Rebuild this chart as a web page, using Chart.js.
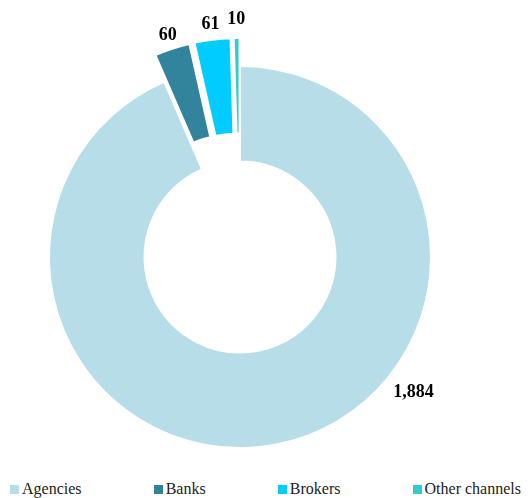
<!DOCTYPE html>
<html>
<head>
<meta charset="utf-8">
<script src="https://cdn.jsdelivr.net/npm/chart.js@4.4.1/dist/chart.umd.min.js"></script>
<style>
  html, body { margin: 0; padding: 0; background: #fff; }
  #wrap { position: relative; width: 531px; height: 498px; }
  #chartBox { position: absolute; left: 0; top: 0; width: 531px; height: 470px; }
  #legend {
    position: absolute; left: 10px; top: 480px; width: 511px;
    display: flex; justify-content: space-between;
    font-family: 'Liberation Serif', 'Times New Roman', serif;
    font-size: 16px; line-height: 18px; color: #222;
  }
  .item { display: flex; align-items: center; }
  .swatch { width: 9px; height: 9px; margin-right: 3px; }
</style>
</head>
<body>
<div id="wrap">
  <div id="chartBox"><canvas id="channelChart"></canvas></div>
  <div id="legend"></div>
</div>
<script>
const channels = ['Agencies', 'Banks', 'Brokers', 'Other channels'];
const policies = [1884, 60, 61, 10];
const colors = ['#b7dde8', '#31849b', '#00ccff', '#33cccc'];

// small slices are pulled out of the ring (pixels)
const sliceOffset = [0, 28, 28, 28];
// where the value label sits: fraction along the arc, gap outside the arc
const labelAlong = [0.38, 0.5, 0.5, 0.5];
const labelGap = [29, 14, 16, 19];

function ringCenter(chart) {
    const a = chart.chartArea;
    return { cx: (a.left + a.right) / 2, cy: (a.top + a.bottom) / 2 };
}

// Chart.js' own offset also trims the arc, so move the slices ourselves
const pullOut = {
    id: 'pullOut',
    beforeDatasetsDraw(chart) {
        const { cx, cy } = ringCenter(chart);
        chart.getDatasetMeta(0).data.forEach((arc, i) => {
            const mid = (arc.startAngle + arc.endAngle) / 2;
            arc.x = cx + Math.cos(mid) * sliceOffset[i];
            arc.y = cy + Math.sin(mid) * sliceOffset[i];
        });
    }
};

const sliceLabels = {
    id: 'sliceLabels',
    afterDatasetsDraw(chart) {
        const ctx = chart.ctx;
        const { cx, cy } = ringCenter(chart);
        ctx.save();
        ctx.font = 'bold 18px "Liberation Serif", "Times New Roman", serif';
        ctx.fillStyle = '#000';
        ctx.textAlign = 'center';
        ctx.textBaseline = 'middle';
        chart.getDatasetMeta(0).data.forEach((arc, i) => {
            const a = arc.startAngle + labelAlong[i] * (arc.endAngle - arc.startAngle);
            const r = arc.outerRadius + sliceOffset[i] + labelGap[i];
            ctx.fillText(policies[i].toLocaleString('en-US'), cx + Math.cos(a) * r, cy + Math.sin(a) * r);
        });
        ctx.restore();
    }
};

new Chart(document.getElementById('channelChart'), {
    type: 'doughnut',
    data: {
        labels: channels,
        datasets: [{
            data: policies,
            backgroundColor: colors,
            borderColor: '#ffffff',
            borderWidth: 2,
            clip: false
        }]
    },
    options: {
        responsive: true,
        maintainAspectRatio: false,
        animation: false,
        events: [],
        radius: 191,
        cutout: '50%',
        layout: { padding: { top: 44, right: 51, bottom: 0, left: 0 } },
        plugins: {
            legend: { display: false }, // custom HTML legend below
            tooltip: { enabled: false }
        }
    },
    plugins: [pullOut, sliceLabels]
});

// legend
const legend = document.getElementById('legend');
channels.forEach((name, i) => {
    const item = document.createElement('div');
    item.className = 'item';
    const sw = document.createElement('span');
    sw.className = 'swatch';
    sw.style.background = colors[i];
    item.appendChild(sw);
    item.appendChild(document.createTextNode(name));
    legend.appendChild(item);
});
</script>
</body>
</html>
